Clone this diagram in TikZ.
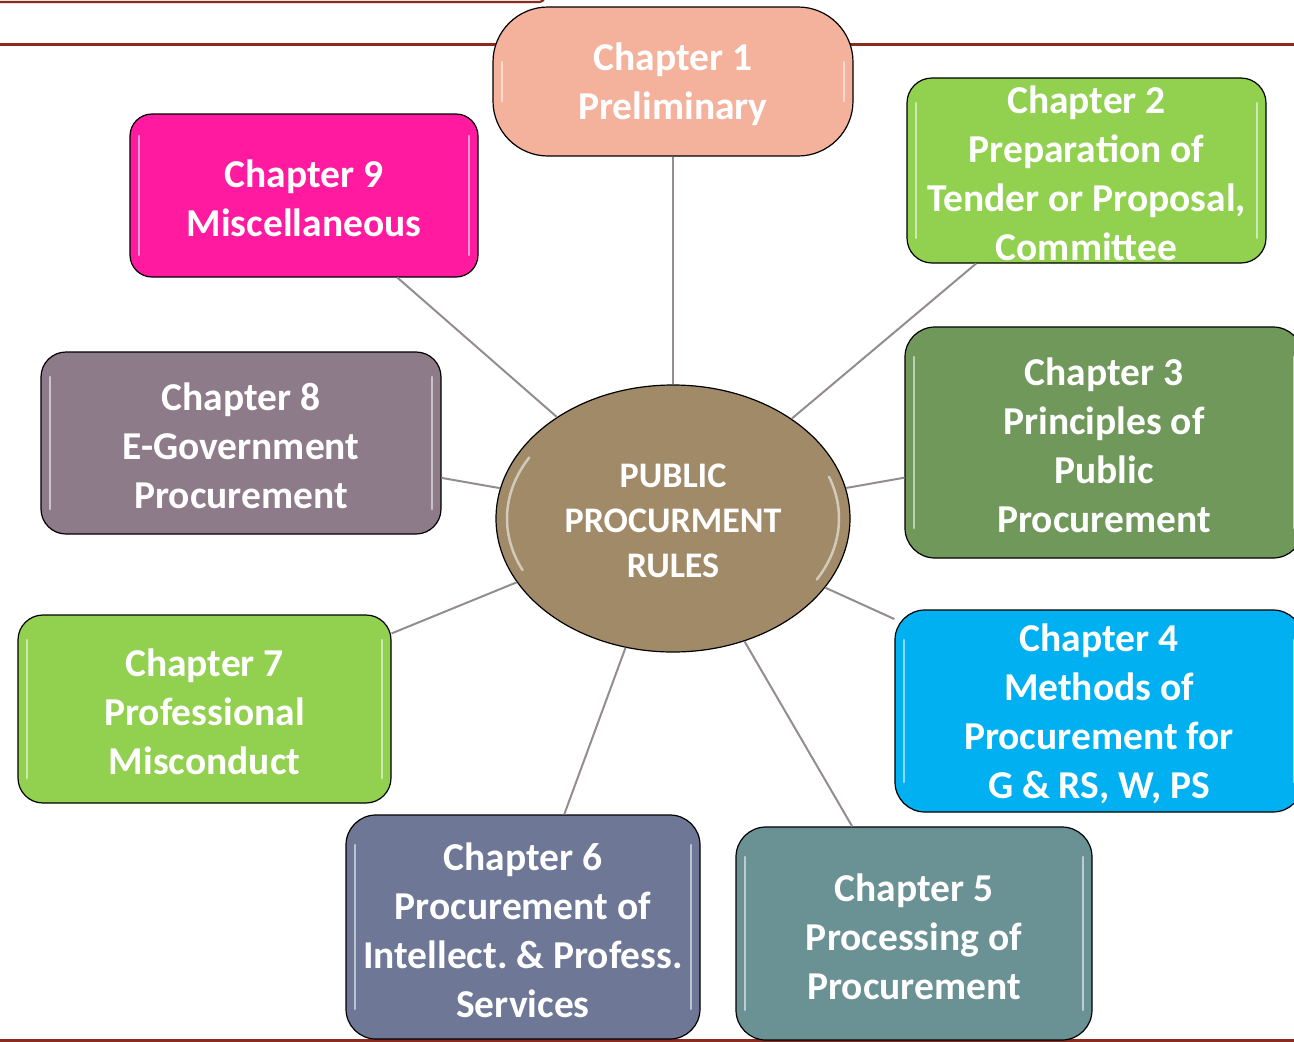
\documentclass[tikz,border=0pt]{standalone}
\usepackage{fontspec}
\setmainfont{Carlito}
\frenchspacing
\usetikzlibrary{shapes.geometric}
\definecolor{rulered}{HTML}{8B2A1F}
\definecolor{conngray}{HTML}{948C90}
\definecolor{cOne}{HTML}{F4B19B}
\definecolor{cGreen}{HTML}{92D050}
\definecolor{cThree}{HTML}{6F985A}
\definecolor{cFour}{HTML}{00B0F0}
\definecolor{cFive}{HTML}{6A9194}
\definecolor{cSix}{HTML}{6E7896}
\definecolor{cEight}{HTML}{8E7B8A}
\definecolor{cNine}{HTML}{FF1AA0}
\definecolor{cCenter}{HTML}{A08A68}
\newcommand\chfont{\fontsize{39.5}{49}\selectfont\bfseries}
\newcommand\cenfont{\fontsize{36}{45}\selectfont\bfseries}
\tikzset{
  rulestyle/.style={draw=rulered, line width=2.2pt},
  conn/.style={draw=conngray, line width=2pt},
  glosspen/.style={draw=white, opacity=.55, line width=2.5pt, line cap=round},
  chlabel/.style={align=center, text=white, font=\chfont, inner sep=0pt, yshift=-3pt},
  cenlabel/.style={align=center, text=white, font=\cenfont, inner sep=0pt, yshift=-2pt},
  chbox/.style={draw=black, line width=1.2pt, rounded corners=#1, inner sep=0pt, rectangle,
    path picture={
      \draw[glosspen] ([shift={(9pt,-#1)}]path picture bounding box.north west) -- ([shift={(9pt,#1)}]path picture bounding box.south west);
      \draw[glosspen] ([shift={(-9pt,-#1)}]path picture bounding box.north east) -- ([shift={(-9pt,#1)}]path picture bounding box.south east);
    }},
}
\begin{document}
\begin{tikzpicture}[x=1pt,y=-1pt]
\useasboundingbox (0,0) rectangle (1294,1042);
% rules
\draw[rulestyle] (0,2) -- (540,2) -- (544,0);
\draw[rulestyle] (0,44.5) -- (1294,44.5);
\draw[rulestyle] (0,1040.5) -- (1294,1040.5);
% centre
\node[ellipse, draw=black, line width=1.2pt, fill=cCenter, minimum width=354pt, minimum height=267pt, inner sep=0pt,
      label={[cenlabel]center:{PUBLIC\\PROCURMENT\\RULES}}] (c) at (673,518.5) {};
\draw[glosspen] ([shift={(150:166pt and 122pt)}]c.center) arc[start angle=150, end angle=205, x radius=166pt, y radius=122pt];
\draw[glosspen] ([shift={(-30:166pt and 122pt)}]c.center) arc[start angle=-30, end angle=20, x radius=166pt, y radius=122pt];
% chapters
\node[chbox=55pt, fill=cOne, minimum width=360pt, minimum height=149pt,
      label={[chlabel]center:{Chapter 1\\Preliminary}}] (n1) at (673,81.5) {};
\node[chbox=25pt, fill=cGreen, minimum width=359pt, minimum height=185pt,
      label={[chlabel]center:{Chapter 2\\Preparation of\\Tender or Proposal,\\Committee}}] (n2) at (1086.5,170.5) {};
\node[chbox=30pt, fill=cThree, minimum width=398pt, minimum height=231pt,
      label={[chlabel]center:{Chapter 3\\Principles of\\Public\\Procurement}}] (n3) at (1104,442.5) {};
\node[chbox=30pt, fill=cFour, minimum width=408pt, minimum height=202pt,
      label={[chlabel]center:{Chapter 4\\Methods of\\Procurement for\\G \& RS, W, PS}}] (n4) at (1099,711) {};
\node[chbox=30pt, fill=cFive, minimum width=356pt, minimum height=213pt,
      label={[chlabel]center:{Chapter 5\\Processing of\\Procurement}}] (n5) at (914,933.5) {};
\node[chbox=30pt, fill=cSix, minimum width=354pt, minimum height=224pt,
      label={[chlabel]center:{Chapter 6\\Procurement of\\Intellect. \& Profess.\\Services}}] (n6) at (523,927) {};
\node[chbox=25pt, fill=cGreen, minimum width=373pt, minimum height=188pt,
      label={[chlabel]center:{Chapter 7\\Professional\\Misconduct}}] (n7) at (204.5,709) {};
\node[chbox=25pt, fill=cEight, minimum width=400pt, minimum height=182pt,
      label={[chlabel]center:{Chapter 8\\E-Government\\Procurement}}] (n8) at (241,443) {};
\node[chbox=22pt, fill=cNine, minimum width=348pt, minimum height=163pt,
      label={[chlabel]center:{Chapter 9\\Miscellaneous}}] (n9) at (304,195.5) {};
% connectors
\foreach \n in {n1,n2,n3,n4,n5,n6,n7,n8,n9} {\draw[conn] (c) -- (\n);}
\end{tikzpicture}
\end{document}
